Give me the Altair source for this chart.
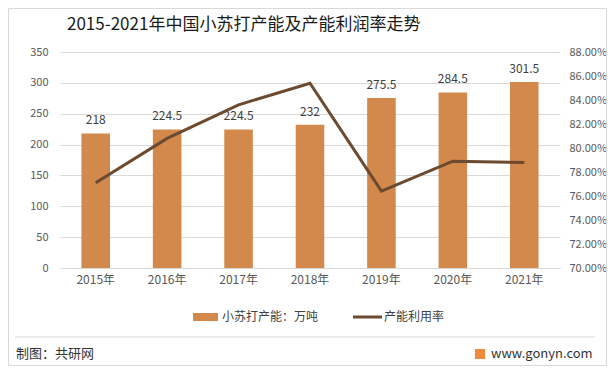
import altair as alt
import pandas as pd

years = ["2015年", "2016年", "2017年", "2018年", "2019年", "2020年", "2021年"]
capacity = [218, 224.5, 224.5, 232, 275.5, 284.5, 301.5]
utilization = [0.771, 0.808, 0.836, 0.854, 0.764, 0.789, 0.788]
left_ticks = [0, 50, 100, 150, 200, 250, 300, 350]
right_ticks = [0.70, 0.72, 0.74, 0.76, 0.78, 0.80, 0.82, 0.84, 0.86, 0.88]

df = pd.DataFrame({"year": years, "cap": capacity, "rate": utilization})
one = pd.DataFrame({"a": [0]})

FONT = "Noto Sans CJK SC"
BAR_C = "#D4894C"
LINE_C = "#6B4A30"
GRID_C = "#D9D9D9"
LAB_C = "#595959"

x_enc = alt.X("year:N", sort=years, title=None,
              scale=alt.Scale(paddingInner=0.6, paddingOuter=0.3),
              axis=alt.Axis(labelAngle=0, domain=True, domainColor=GRID_C, ticks=False,
                            labelColor=LAB_C, labelFontSize=12, labelFont=FONT, labelPadding=6,
                            grid=False))

y_cap = alt.Y("cap:Q", title=None,
              scale=alt.Scale(domain=[0, 350], nice=False),
              axis=alt.Axis(values=left_ticks, domain=False, ticks=False, labelOverlap=False,
                            grid=True, gridColor=GRID_C, labelColor=LAB_C, labelFontSize=11,
                            labelFont=FONT, labelPadding=12, orient="left"))

bars = alt.Chart(df).mark_bar(color=BAR_C).encode(x=x_enc, y=y_cap)
labels = alt.Chart(df).mark_text(dy=-13, fontSize=12, font=FONT, color="#404040").encode(
    x=alt.X("year:N", sort=years), y=y_cap, text=alt.Text("cap:Q"))

line = alt.Chart(df).mark_line(color=LINE_C, strokeWidth=3).encode(
    x=alt.X("year:N", sort=years),
    y=alt.Y("rate:Q", title=None,
            scale=alt.Scale(domain=[0.70, 0.88], nice=False, zero=False),
            axis=alt.Axis(values=right_ticks, labelOverlap=False,
                          format=".2%", orient="right", domain=False, ticks=False, grid=False,
                          labelColor=LAB_C, labelFontSize=11, labelFont=FONT, labelPadding=9)),
)

def deco_text(txt, x, y, size, color="#262626", align="left"):
    return alt.Chart(one).mark_text(text=txt, fontSize=size, font=FONT, color=color,
                                    align=align, baseline="middle").encode(
        x=alt.value(x), y=alt.value(y))

frame = alt.Chart(one).mark_rect(fill=None, stroke="#D9D9D9", strokeWidth=1).encode(
    x=alt.value(-51.5), x2=alt.value(546.5), y=alt.value(-43.5), y2=alt.value(313.5))
sep = alt.Chart(one).mark_rule(color="#D9D9D9", strokeWidth=1).encode(
    x=alt.value(-45), x2=alt.value(535), y=alt.value(285))
title = deco_text("2015-2021年中国小苏打产能及产能利润率走势", 7, -27, 17, "#1a1a1a")
leg_bar = alt.Chart(one).mark_rect(color=BAR_C).encode(
    x=alt.value(133), x2=alt.value(158), y=alt.value(261), y2=alt.value(269))
leg_bar_t = deco_text("小苏打产能：万吨", 162, 265, 12, "#404040")
leg_line = alt.Chart(one).mark_rule(color=LINE_C, strokeWidth=3).encode(
    x=alt.value(293), x2=alt.value(322), y=alt.value(265))
leg_line_t = deco_text("产能利用率", 324, 265, 12, "#404040")
foot_l = deco_text("制图：共研网", -44, 302, 13, "#333333")
logo = alt.Chart(one).mark_rect(color="#F08A3C").encode(
    x=alt.value(415), x2=alt.value(425), y=alt.value(297), y2=alt.value(307))
foot_r = deco_text("www.gonyn.com", 431, 302, 13, "#333333")

main = alt.layer(alt.layer(bars, labels), line).resolve_scale(y="independent")

chart = alt.layer(frame, sep, main, title, leg_bar, leg_bar_t, leg_line, leg_line_t,
                  foot_l, logo, foot_r).properties(
    width=500, height=216,
    autosize=alt.AutoSizeParams(type="none"),
    padding={"left": 52, "top": 44, "right": 47, "bottom": 98},
    background="white",
).configure_view(stroke=None)

chart.save("out.html", embed_options={"renderer": "svg", "actions": False})
